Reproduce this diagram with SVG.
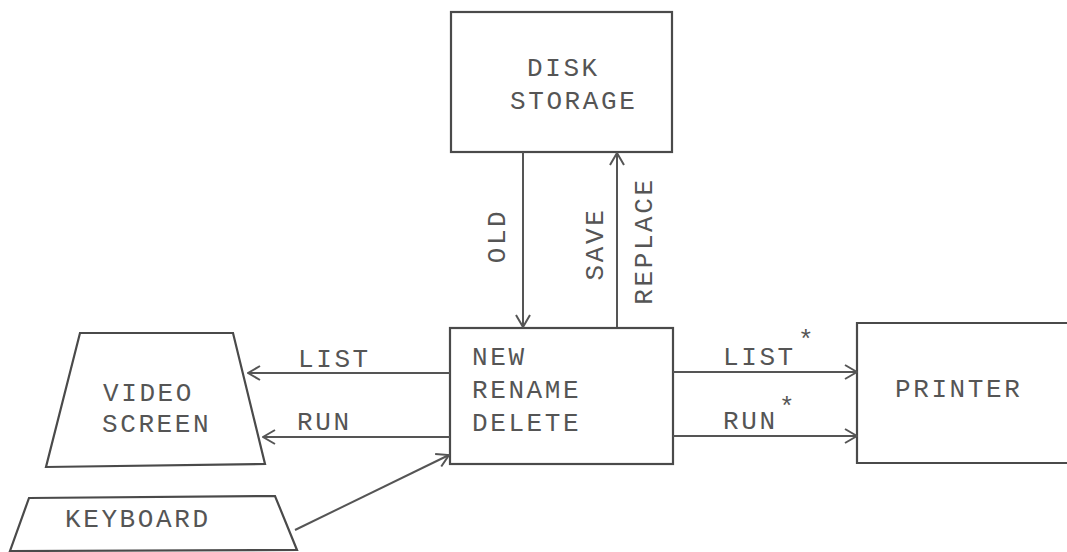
<svg xmlns="http://www.w3.org/2000/svg" width="1067" height="552" viewBox="0 0 1067 552">
<defs>
<style>
.box{fill:none;stroke:#4a4a4a;stroke-width:2.2}
.ln{fill:none;stroke:#555;stroke-width:2}
.t{font-family:"Liberation Mono","Courier New",monospace;font-size:26px;fill:#555;letter-spacing:2.6px}
.s{font-family:"Liberation Mono","Courier New",monospace;font-size:26px;fill:#555}
</style>
<marker id="ah" viewBox="0 0 14 16" refX="13" refY="8" markerWidth="14" markerHeight="16" markerUnits="userSpaceOnUse" orient="auto">
<path d="M1,1 L13,8 L1,15" fill="none" stroke="#555" stroke-width="2"/>
</marker>
</defs>
<rect width="1067" height="552" fill="#fff"/>
<g id="disk">
<rect class="box" x="451" y="12" width="221" height="140"/>
<text class="t" x="527" y="76">DISK</text>
<text class="t" x="510" y="109">STORAGE</text>
</g>
<g id="core">
<rect class="box" x="450" y="328" width="223" height="136"/>
<text class="t" x="472" y="365">NEW</text>
<text class="t" x="472" y="398">RENAME</text>
<text class="t" x="472" y="431">DELETE</text>
</g>
<g id="video">
<path class="box" d="M80,333 L233,333 L265,464 L46,467 Z"/>
<text class="t" x="103" y="401">VIDEO</text>
<text class="t" x="102" y="432">SCREEN</text>
</g>
<g id="keyboard">
<path class="box" d="M29,498 L275,496 L297,550 L10,551 Z"/>
<text class="t" x="65" y="527">KEYBOARD</text>
</g>
<g id="printer">
<path class="box" d="M1068,323 L857,323 L857,463 L1068,463"/>
<text class="t" x="895" y="397">PRINTER</text>
</g>
<g id="connectors">
<line class="ln" x1="523" y1="152" x2="523" y2="327" marker-end="url(#ah)"/>
<line class="ln" x1="617" y1="327" x2="617" y2="153" marker-end="url(#ah)"/>
<line class="ln" x1="450" y1="373" x2="248" y2="373" marker-end="url(#ah)"/>
<line class="ln" x1="450" y1="437" x2="263" y2="437" marker-end="url(#ah)"/>
<line class="ln" x1="295" y1="530" x2="449" y2="455" marker-end="url(#ah)"/>
<line class="ln" x1="673" y1="372" x2="857" y2="372" marker-end="url(#ah)"/>
<line class="ln" x1="673" y1="436" x2="857" y2="436" marker-end="url(#ah)"/>
<text class="t" transform="translate(505,236) rotate(-90)" text-anchor="middle">OLD</text>
<text class="t" transform="translate(603,244) rotate(-90)" text-anchor="middle">SAVE</text>
<text class="t" transform="translate(652,241) rotate(-90)" text-anchor="middle">REPLACE</text>
<text class="t" x="298" y="367">LIST</text>
<text class="t" x="297" y="430">RUN</text>
<text class="t" x="723" y="365">LIST</text>
<text class="s" x="798" y="348">*</text>
<text class="t" x="723" y="429">RUN</text>
<text class="s" x="779" y="415">*</text>
</g>
</svg>
